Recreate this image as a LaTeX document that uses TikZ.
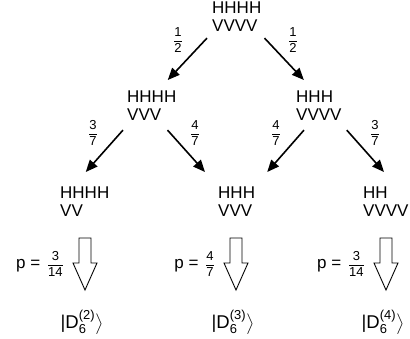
\documentclass[tikz,border=0pt]{standalone}
\usepackage{amsmath}
\usepackage{fontspec}
\setmainfont{Liberation Sans}
\usetikzlibrary{arrows.meta,positioning}

\tikzset{
  state/.style={anchor=north west,inner sep=0pt,align=left,
    font=\fontsize{17}{18}\selectfont},
  prob/.style={inner sep=0pt,font=\fontsize{17}{18}\selectfont},
  branch/.style={line width=1.6pt,-{Triangle[length=12pt,width=10pt]}},
  outcome/.style={line width=0.9pt,fill=white,line join=miter}
}
\newcommand{\fr}[2]{{\fontsize{13}{13}\selectfont$\dfrac{\text{#1}}{\text{#2}}$}}
\newcommand{\ketD}[1]{{\fontsize{18.5}{19}\selectfont$\text{|D}_{\text{6}}^{\text{(#1)}}\bigr\rangle$}}

\begin{document}
\begin{tikzpicture}[x=1pt,y=-1pt]
        \useasboundingbox (0,0) rectangle (410,338);
        % states
        \node[state] (root) at (212,2)  {HHHH\\VVVV};
        \node[state] (l2a)  at (127,91) {HHHH\\VVV};
        \node[state] (l2b)  at (296,91) {HHH\\VVVV};
        \node[state] (l3a)  at (60,187) {HHHH\\VV};
        \node[state] (l3b)  at (218,187) {HHH\\VVV};
        \node[state] (l3c)  at (363,187) {HH\\VVVV};
        % branches
        \draw[branch] ([shift={(-5,6)}]root.south west) -- ([shift={(16,-11)}]l2a.north);
        \draw[branch] ([shift={(3,6)}]root.south east) -- ([shift={(-15,-11)}]l2b.north);
        \draw[branch] ([shift={(-4,9)}]l2a.south west) -- ([shift={(1,-15)}]l3a.north);
        \draw[branch] ([shift={(-9,9)}]l2a.south east) -- ([shift={(-13,-15)}]l3b.north west);
        \draw[branch] ([shift={(8,9)}]l2b.south west) -- ([shift={(12,-15)}]l3b.north east);
        \draw[branch] ([shift={(5,9)}]l2b.south east) -- ([shift={(21,-15)}]l3c.north west);
        \node[prob] (q1) at (178,40) {\fr{1}{2}};
        \node[prob] (q2) at (293,40) {\fr{1}{2}};
        \node[prob] (q3) at (93,133)  {\fr{3}{7}};
        \node[prob] (q4) at (195,133) {\fr{4}{7}};
        \node[prob] (q5) at (276,133) {\fr{4}{7}};
        \node[prob] (q6) at (375,133) {\fr{3}{7}};
        % measurement
        \foreach \x/\p/\k/\i in {85/{3}{14}/2/a,236/{4}{7}/3/b,386/{3}{14}/4/c}
          {
            \draw[outcome] (\x-6,238) -- (\x+6,238) -- (\x+6,263) -- (\x+12,263)
              -- (\x,290) -- (\x-12,263) -- (\x-6,263) -- cycle;
            \node[prob,anchor=east] (p\i) at (\x-21,264) {p =\hspace{2pt} \expandafter\fr\p};
            \node[prob,anchor=base] (d\i) at (\x-3,328) {\ketD{\k}};
          }
      \end{tikzpicture}
\end{document}
